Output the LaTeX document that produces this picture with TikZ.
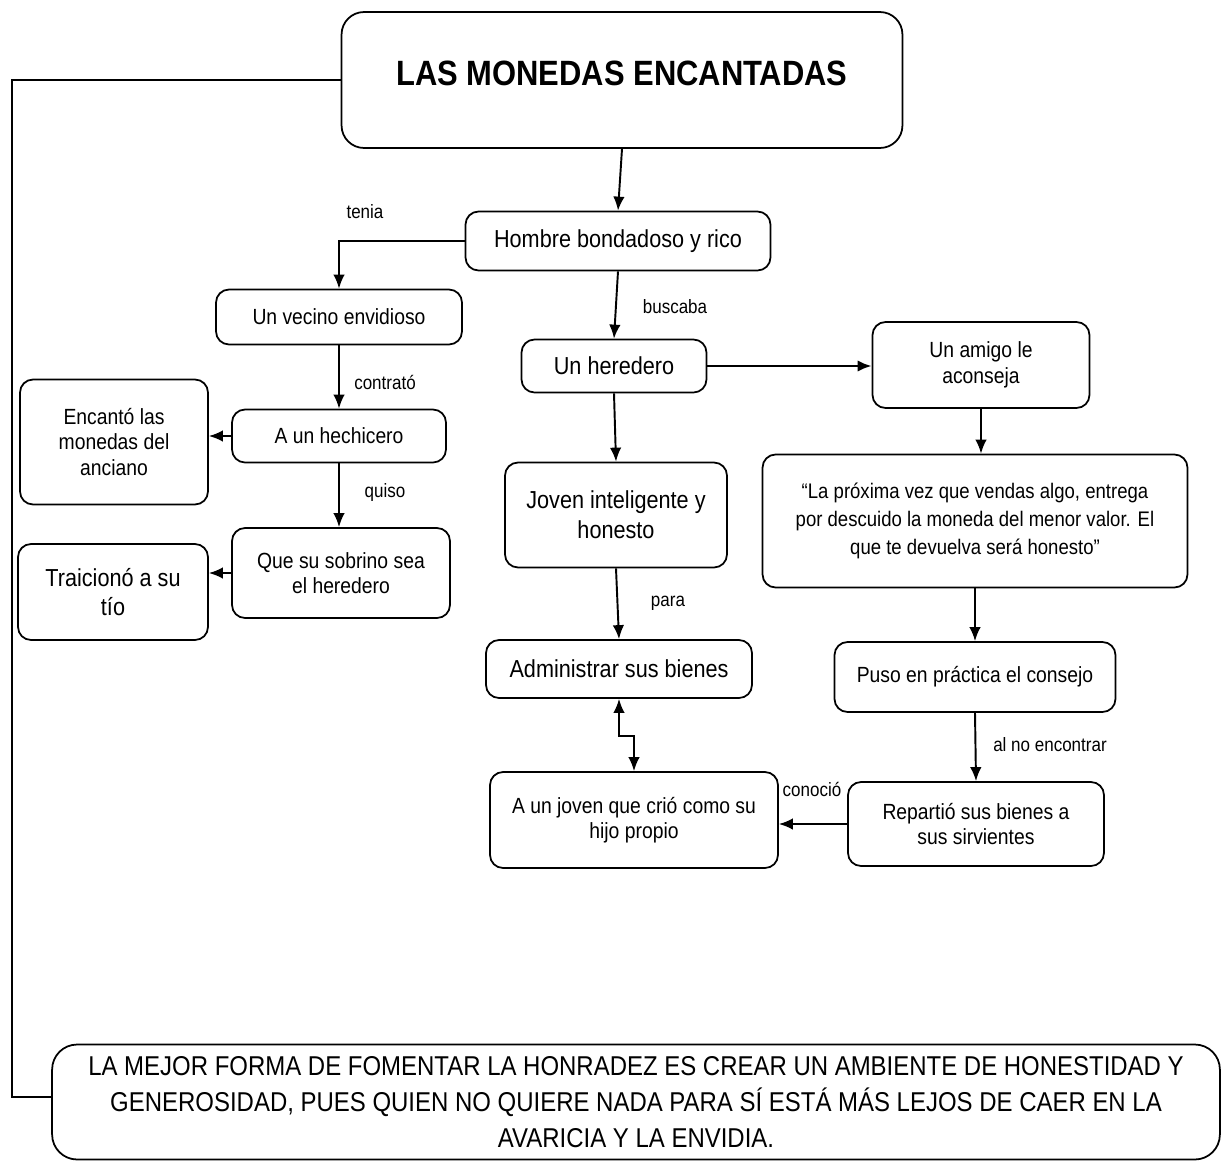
\documentclass[tikz,border=0pt]{standalone}
\usepackage{fontspec}
\setmainfont[FakeStretch=0.88]{Liberation Sans}
\usetikzlibrary{arrows.meta}
\begin{document}
\begin{tikzpicture}[
      x=0.02cm, y=-0.02cm,
      font=\fontsize{12.5}{14.5}\selectfont,
      box/.style={draw=black, rounded corners=2.6mm, line width=1pt,
                  align=center, inner sep=2pt},
      bigtext/.style={font=\fontsize{14}{17}\selectfont},
      flow/.style={draw=black, ->, >={Latex[length=2.8mm,width=2.3mm]},
                   line width=1.1pt},
      lbl/.style={font=\fontsize{11}{13}\selectfont, inner sep=1pt}
    ]
    \useasboundingbox (0,0) rectangle (1227,1167);

    % Title and the first level.
    \node[box, rounded corners=4.5mm, minimum width=11.22cm, minimum height=2.72cm,
          font=\bfseries\fontsize{20}{24}\selectfont, text depth=0.27cm]
      (title) at (622,80) {LAS MONEDAS ENCANTADAS};
    \node[box, bigtext, minimum width=6.1cm, minimum height=1.18cm]
      (hombre) at (618,241) {Hombre bondadoso y rico};
    \draw[flow] (title.south) -- (hombre.north);

    % Left branch.
    \node[box, minimum width=4.92cm, minimum height=1.1cm]
      (vecino) at (339,317) {Un vecino envidioso};
    \node[box, minimum width=4.28cm, minimum height=1.06cm]
      (hechicero) at (339,436) {A un hechicero};
    \node[box, minimum width=3.76cm, minimum height=2.5cm]
      (encanto) at (114,442) {Encantó las\\monedas del\\anciano};
    \node[box, minimum width=4.36cm, minimum height=1.8cm]
      (sobrino) at (341,573) {Que su sobrino sea\\el heredero};
    \node[box, bigtext, minimum width=3.8cm, minimum height=1.92cm]
      (traiciono) at (113,592) {Traicionó a su\\tío};
    \draw[flow] (hombre.west) -| (vecino.north);
    \node[lbl] at (365,212) {tenia};
    \draw[flow] (vecino.south) -- (hechicero.north);
    \node[lbl] at (385,382) {contrató};
    \draw[flow] (hechicero.west) -- (hechicero.west -| encanto.east);
    \draw[flow] (hechicero.south) -- (hechicero.south |- sobrino.north);
    \node[lbl] at (385,492) {quiso};
    \draw[flow] (sobrino.west) -- (sobrino.west -| traiciono.east);

    % Middle branch.
    \node[box, bigtext, minimum width=3.7cm, minimum height=1.06cm]
      (heredero) at (614,366) {Un heredero};
    \node[box, bigtext, minimum width=4.44cm, minimum height=2.1cm]
      (joven) at (616,515) {Joven inteligente y\\honesto};
    \node[box, bigtext, minimum width=5.32cm, minimum height=1.16cm]
      (admin) at (619,669) {Administrar sus bienes};
    \node[box, minimum width=5.76cm, minimum height=1.92cm]
      (hijo) at (634,820) {A un joven que crió como su\\hijo propio};
    \draw[flow] (hombre.south) -- (heredero.north);
    \node[lbl] at (675,307) {buscaba};
    \draw[flow] (heredero.south) -- (joven.north);
    \draw[flow] (joven.south) -- (admin.north);
    \node[lbl] at (668,603) {para};
    \draw[flow, <->] (admin.south) -- ++(0,37) -| (hijo.north);

    % Right branch.
    \node[box, minimum width=4.34cm, minimum height=1.72cm]
      (amigo) at (981,365) {Un amigo le\\aconseja};
    \node[box, minimum width=8.5cm, minimum height=2.66cm,
          font=\fontsize{12}{16}\selectfont]
      (consejo) at (975,521) {``La próxima vez que vendas algo, entrega\\por descuido la moneda del menor valor. El\\que te devuelva será honesto''};
    \node[box, minimum width=5.62cm, minimum height=1.4cm]
      (puso) at (975,677) {Puso en práctica el consejo};
    \node[box, minimum width=5.12cm, minimum height=1.68cm]
      (reparte) at (976,824) {Repartió sus bienes a\\sus sirvientes};
    \draw[flow, line width=1.6pt] (heredero.east) -- (heredero.east -| amigo.west);
    \draw[flow] (amigo.south) -- (amigo.south |- consejo.north);
    \draw[flow] (consejo.south) -- (puso.north);
    \draw[flow] (puso.south) -- (reparte.north);
    \node[lbl] at (1050,745) {al no encontrar};
    \draw[flow] (reparte.west) -- (reparte.west -| hijo.east);
    \node[lbl] at (812,789) {conoció};

    % Conclusion.
    \node[box, rounded corners=5mm, minimum width=23.36cm, minimum height=2.3cm,
          font=\fontsize{15.5}{20.5}\selectfont]
      (final) at (636,1102) {LA MEJOR FORMA DE FOMENTAR LA HONRADEZ ES CREAR UN AMBIENTE DE HONESTIDAD Y\\GENEROSIDAD, PUES QUIEN NO QUIERE NADA PARA SÍ ESTÁ MÁS LEJOS DE CAER EN LA\\AVARICIA Y LA ENVIDIA.};
    \coordinate (rail) at (12,1097);
    \draw[line width=1pt] (title.west) -| (rail) -- (rail -| final.west);
  \end{tikzpicture}
\end{document}
